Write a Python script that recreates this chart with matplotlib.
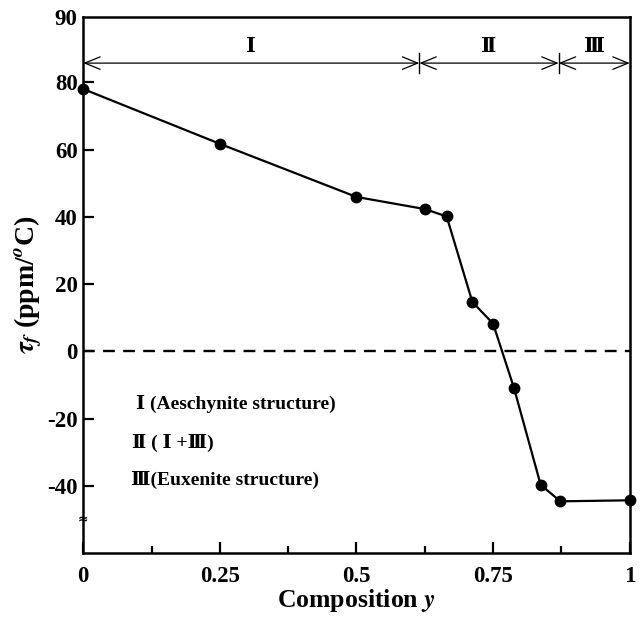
import matplotlib
matplotlib.use("Agg")
import matplotlib.pyplot as plt
import numpy as np

# composition y and tau_f values
comp_y = [0.0, 0.25, 0.5, 0.625, 0.665, 0.712, 0.75, 0.788, 0.837, 0.873, 1.0]
tau_f = [78.0, 61.7, 45.9, 42.3, 40.1, 14.7, 8.2, -10.8, -39.7, -44.6, -44.3]

# phase regions along the top
region_edges = [0.0, 0.615, 0.87, 1.0]
region_names = ['\u2160', '\u2161', '\u2162']
legend_lines = ['\u2160 (Aeschynite structure)',
                '\u2161 ( \u2160 +\u2162)',
                '\u2162(Euxenite structure)']

ytick_vals = [-40, -20, 0, 20, 40, 60, 80]
xtick_vals = [0, 0.25, 0.5, 0.75, 1]
xtick_labels = ['0', '0.25', '0.5', '0.75', '1']

plt.rcParams['font.family'] = ['Liberation Serif', 'DejaVu Serif']
plt.rcParams['font.weight'] = 'bold'
plt.rcParams['mathtext.fontset'] = 'stix'

ylo, yhi = -60, 99.5
fam = ['Liberation Serif', 'DejaVu Serif', 'Noto Sans CJK SC']

fig = plt.figure(figsize=(6.4, 6.18), dpi=100)
ax = fig.add_axes([0.130, 0.105, 0.854, 0.868])

ax.plot(comp_y, tau_f, 'k-', lw=1.6, marker='o', ms=7.5, clip_on=False, zorder=5)
ax.axhline(0, color='k', lw=1.7, ls=(0, (5, 3.5)))

# region arrows
yarr = 85.7
for i in range(len(region_names)):
    a, b = region_edges[i], region_edges[i + 1]
    ax.annotate('', xy=(a, yarr), xytext=(b, yarr),
                arrowprops=dict(arrowstyle='<->,head_length=1.1,head_width=0.45',
                                color='k', lw=0.9, shrinkA=0, shrinkB=0))
    ax.text((a + b) / 2, 90.5, region_names[i], ha='center', va='center',
            fontsize=15, fontweight='bold', family=fam)
for e in region_edges[1:-1]:
    ax.plot([e, e], [yarr - 3, yarr + 3], 'k-', lw=1)

# structure legend
legend_y = [-15.7, -27.3, -38.4]
legend_x = [0.097, 0.09, 0.087]
for xx, yy, s in zip(legend_x, legend_y, legend_lines):
    ax.text(xx, yy, s, ha='left', va='center', fontsize=14, fontweight='bold',
            family=fam)

# axis break mark
ax.text(0, -50, '\u2248', ha='center', va='center', fontsize=9, fontweight='bold',
        family=['DejaVu Sans'])

ax.set_xlim(0, 1)
ax.set_ylim(ylo, yhi)
ax.set_xticks(xtick_vals)
ax.set_xticklabels(xtick_labels)
ax.set_xticks(np.arange(0.125, 1, 0.25), minor=True)
ax.set_yticks(ytick_vals + [yhi])
ax.set_yticklabels([str(v) for v in ytick_vals] + ['90'])

ax.tick_params(axis='both', which='major', direction='in', length=8, width=1.6,
               labelsize=16.5, pad=9)
ax.tick_params(axis='x', which='minor', direction='in', length=5, width=1.6)
ax.tick_params(axis='y', which='major', pad=4)
ax.tick_params(top=False, right=False)
for t in ax.get_yticklines()[-2:]:
    t.set_visible(False)
for sp in ax.spines.values():
    sp.set_linewidth(1.8)

ax.set_xlabel(r'Composition $\mathit{y}$', fontsize=18.5, fontweight='bold', labelpad=0)
ax.set_ylabel(r'$\tau_f$ (ppm/$^o$C)', fontsize=20, fontweight='bold', labelpad=2)

fig.savefig('out.png', dpi=100)
